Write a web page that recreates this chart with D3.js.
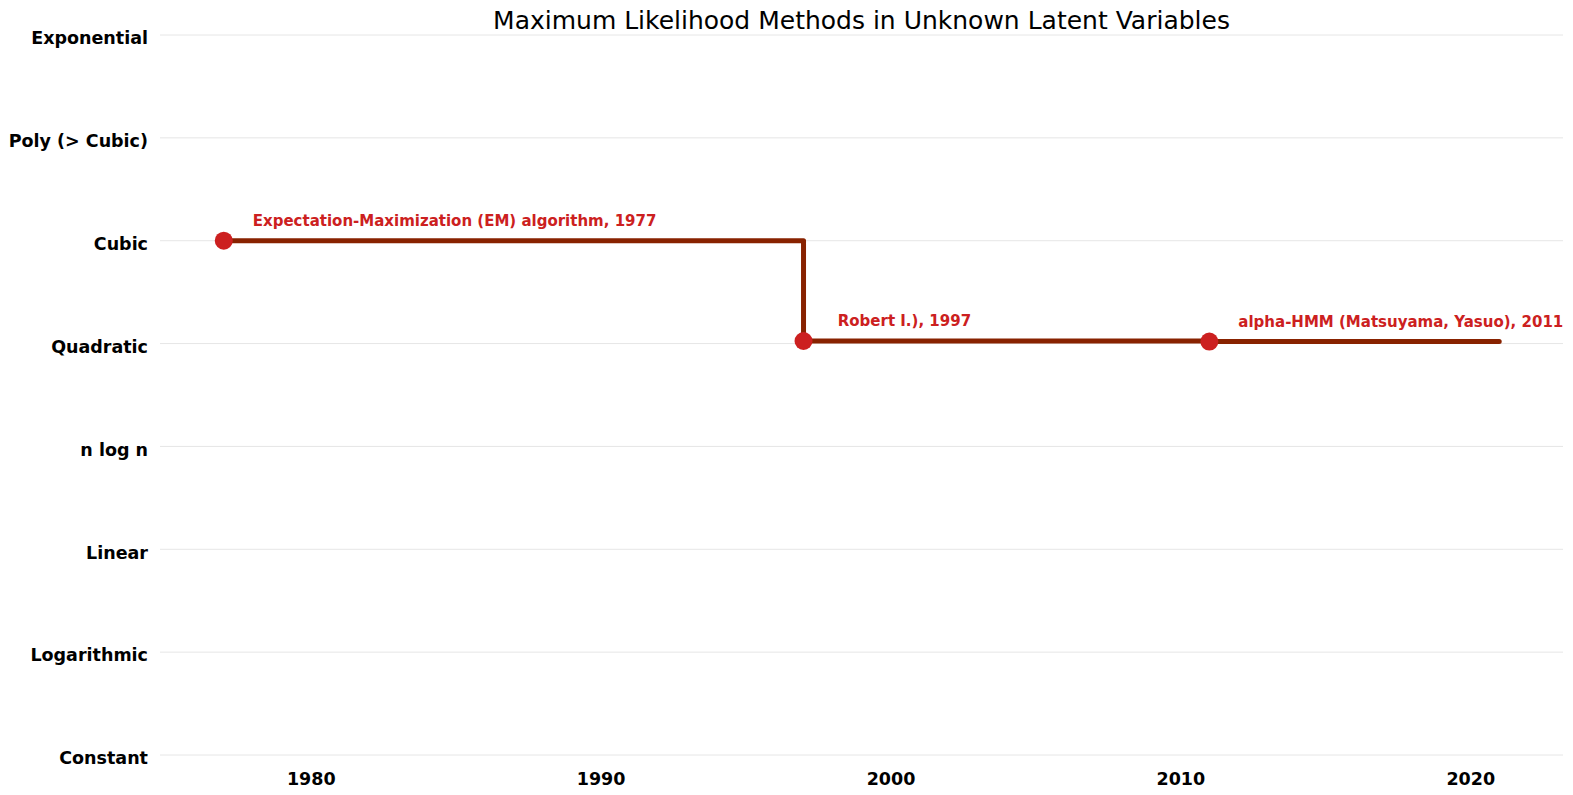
<!DOCTYPE html>
<html><head><meta charset="utf-8">
<script src="https://cdn.jsdelivr.net/npm/d3@7"></script>
<style>body{margin:0;background:#fff}svg{display:block}</style>
</head><body><svg id="c" width="1573" height="795"></svg>
<script>
const title = "Maximum Likelihood Methods in Unknown Latent Variables";
const levels = ["Constant","Logarithmic","Linear","n log n","Quadratic","Cubic","Poly (> Cubic)","Exponential"];
const xTicks = [1980, 1990, 2000, 2010, 2020];
const stepYears = [1977, 1997, 2011, 2021];
const stepValues = [5, 4.025, 4.02, 4.02];
const pointYears = [1977, 1997, 2011];
const pointValues = [5, 4.025, 4.02];
const pointLabels = ["Expectation-Maximization (EM) algorithm, 1977", " Robert I.), 1997", "alpha-HMM (Matsuyama, Yasuo), 2011"];

const svg = d3.select("#c");
const W = 1573, H = 795;
const m = {left:160, right:10, top:35, bottom:40};
const x = d3.scaleLinear().domain([1974.8, 2023.2]).range([m.left, W - m.right]);
const y = d3.scaleLinear().domain([0, 7]).range([H - m.bottom, m.top]);

// gridlines
svg.append("g").selectAll("line").data(levels).join("line")
  .attr("x1", x.range()[0]).attr("x2", x.range()[1])
  .attr("y1", (d,i)=>y(i)).attr("y2", (d,i)=>y(i))
  .attr("stroke", "#e6e6e6").attr("stroke-width", 1);

// y labels
const yAxis = d3.axisLeft(y).tickValues(d3.range(levels.length)).tickFormat(i=>levels[i]).tickSize(0).tickPadding(12);
const gy = svg.append("g").attr("transform", `translate(${m.left},0)`).call(yAxis);
gy.select(".domain").remove();
gy.selectAll("text").attr("font-family","DejaVu Sans").attr("font-weight","bold").attr("font-size",17.5).attr("fill","#000").attr("dy","0.5em");

// x labels
const xAxis = d3.axisBottom(x).tickValues(xTicks).tickFormat(d3.format("d")).tickSize(0).tickPadding(18);
const gx = svg.append("g").attr("transform", `translate(0,${H - m.bottom})`).call(xAxis);
gx.select(".domain").remove();
gx.selectAll("text").attr("font-family","DejaVu Sans").attr("font-weight","bold").attr("font-size",17.5).attr("fill","#000");

// step line
const line = d3.line().x(d=>x(d[0])).y(d=>y(d[1])).curve(d3.curveStepAfter);
svg.append("path").datum(stepYears.map((yr,i)=>[yr, stepValues[i]]))
  .attr("d", line).attr("fill","none").attr("stroke","#882200").attr("stroke-width",5)
  .attr("stroke-linecap","round").attr("stroke-linejoin","round");

// points
svg.append("g").selectAll("circle").data(pointYears).join("circle")
  .attr("cx", d=>x(d)).attr("cy", (d,i)=>y(pointValues[i])).attr("r", 9).attr("fill","#cc2020");

// labels
svg.append("g").selectAll("text").data(pointYears).join("text")
  .attr("x", d=>x(d+1)).attr("y", (d,i)=>y(pointValues[i]+0.145))
  .attr("xml:space","preserve").style("white-space","pre")
  .attr("font-family","DejaVu Sans").attr("font-weight","bold").attr("font-size",15)
  .attr("fill","#cc2020").text((d,i)=>pointLabels[i]);

// title
svg.append("text").attr("x", (x.range()[0]+x.range()[1])/2).attr("y", 29)
  .attr("text-anchor","middle").attr("font-family","DejaVu Sans").attr("font-size",25)
  .attr("fill","#000").text(title);
</script></body></html>
